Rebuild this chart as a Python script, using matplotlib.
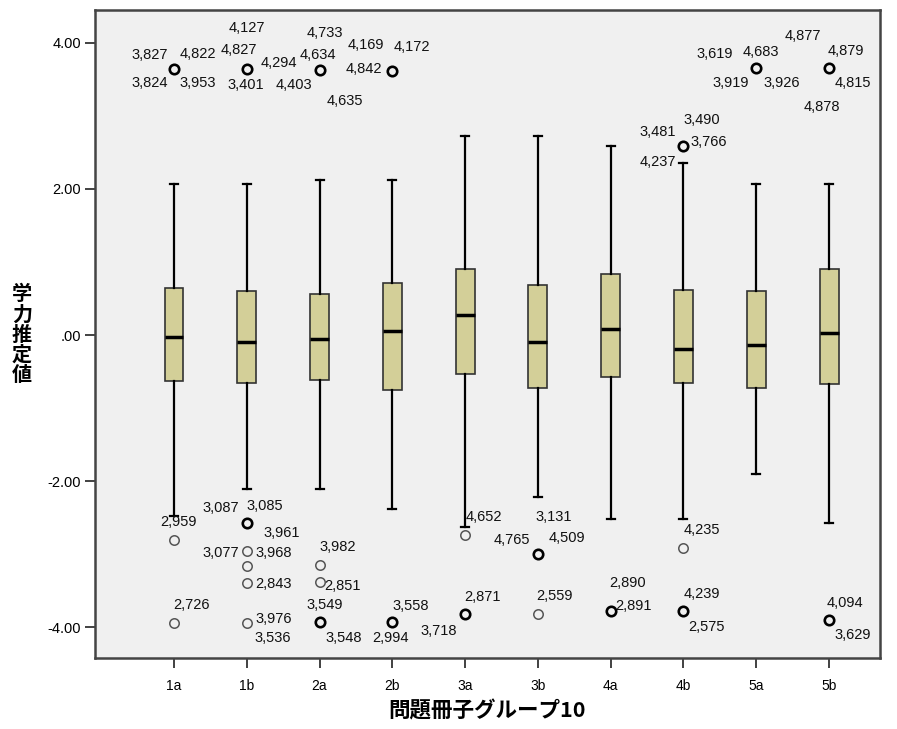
import matplotlib
matplotlib.use("Agg")
import matplotlib.pyplot as plt

plt.rcParams['font.family'] = ['Liberation Sans', 'Noto Sans CJK JP', 'DejaVu Sans']

# ---------------- data ----------------
groups = ['1a', '1b', '2a', '2b', '3a', '3b', '4a', '4b', '5a', '5b']
whisk_hi = [2.07, 2.07, 2.12, 2.12, 2.72, 2.72, 2.59, 2.36, 2.07, 2.07]
q3 = [0.65, 0.60, 0.56, 0.71, 0.90, 0.68, 0.84, 0.62, 0.61, 0.91]
median = [-0.03, -0.10, -0.06, 0.05, 0.28, -0.09, 0.08, -0.19, -0.13, 0.03]
q1 = [-0.63, -0.65, -0.61, -0.75, -0.53, -0.73, -0.58, -0.66, -0.73, -0.67]
whisk_lo = [-2.47, -2.10, -2.10, -2.38, -2.62, -2.21, -2.52, -2.52, -1.90, -2.57]

# outliers: group index, value, multiple cases (bold marker)
out_group = [0, 1, 2, 3, 8, 9, 7,
             0, 0, 1, 1, 1, 1, 1, 2, 2, 2, 3, 4, 4, 5, 5, 6, 7, 7, 9]
out_value = [3.64, 3.64, 3.63, 3.62, 3.65, 3.65, 2.59,
             -2.81, -3.94, -2.57, -2.95, -3.16, -3.40, -3.94, -3.15, -3.38, -3.93,
             -3.93, -2.73, -3.82, -2.99, -3.82, -3.77, -2.91, -3.77, -3.90]
out_multi = [True, True, True, True, True, True, True,
             False, False, True, False, False, False, False, False, False, True,
             True, False, True, True, False, True, False, True, True]

# case-number labels: which outlier they belong to, and text
label_point = [0, 0, 0, 0,
               1, 1, 1, 1,
               2, 2, 2, 2,
               3, 3, 3,
               4, 4, 4, 4,
               5, 5, 5, 5,
               6, 6, 6, 6,
               7, 8, 9, 9, 9, 10, 10, 12, 13, 13,
               14, 15, 16, 16, 17, 17,
               18, 19, 19, 20, 20, 20, 21, 22, 22, 23, 24, 24, 25, 25]
label_text = ['3,827', '4,822', '3,824', '3,953',
              '4,127', '4,827', '4,294', '3,401',
              '4,733', '4,634', '4,403', '4,635',
              '4,169', '4,172', '4,842',
              '3,619', '4,683', '3,919', '3,926',
              '4,877', '4,879', '4,815', '4,878',
              '3,481', '3,490', '3,766', '4,237',
              '2,959', '2,726', '3,087', '3,085', '3,961', '3,077', '3,968', '2,843', '3,976', '3,536',
              '3,982', '2,851', '3,549', '3,548', '3,558', '2,994',
              '4,652', '2,871', '3,718', '3,131', '4,765', '4,509', '2,559', '2,890', '2,891',
              '4,235', '4,239', '2,575', '4,094', '3,629']

# ---------------- layout (label offsets in pixels) ----------------
label_offset = [(-24, 14), (24, 15), (-24, -14), (24, -14),
                (0, 41), (-8, 19), (32, 6), (-1, -16),
                (5, 37), (-2, 15), (-26, -15), (25, -31),
                (-26, 26), (20, 24), (-28, 2),
                (-42, 14), (5, 16), (-26, -15), (25, -15),
                (-26, 32), (17, 17), (24, -15), (-7, -39),
                (-26, 14), (18, 26), (25, 4), (-26, -16),
                (5, 18), (18, 18), (-26, 15), (18, 17), (35, -10), (-26, -2), (27, -2), (27, -1), (27, 4), (26, -15),
                (18, 18), (23, -4), (5, 17), (24, -16), (18, 16), (-2, -16),
                (19, 18), (17, 17), (-26, -17), (16, 37), (-26, 14), (29, 16), (17, 18), (17, 28), (23, 5),
                (18, 18), (18, 17), (23, -16), (16, 17), (24, -15)]

fig = plt.figure(figsize=(8.97, 7.29), dpi=100)
ax = fig.add_axes([95 / 897, 1 - 658 / 729, 785 / 897, 648 / 729])
ax.set_facecolor('#F0F0F0')

stats = []
for i in range(len(groups)):
    stats.append(dict(med=median[i], q1=q1[i], q3=q3[i],
                      whislo=whisk_lo[i], whishi=whisk_hi[i], fliers=[]))

positions = list(range(len(groups)))
ax.bxp(stats, positions=positions, widths=0.26, capwidths=0.11,
       patch_artist=True, showfliers=False,
       boxprops=dict(facecolor='#D3CF98', edgecolor='#333333', linewidth=1.2),
       medianprops=dict(color='black', linewidth=2.5),
       whiskerprops=dict(color='black', linewidth=1.6),
       capprops=dict(color='black', linewidth=1.6),
       manage_ticks=False, zorder=2)

for g, v, m in zip(out_group, out_value, out_multi):
    ax.plot(g, v, marker='o', markersize=6.8, markerfacecolor='none',
            markeredgecolor='black' if m else '#555555',
            markeredgewidth=1.9 if m else 1.1, linestyle='none', zorder=3)

for pi, txt, off in zip(label_point, label_text, label_offset):
    ax.annotate(txt, xy=(out_group[pi], out_value[pi]), xytext=off,
                textcoords='offset pixels', ha='center', va='center',
                fontsize=10.5, color='#111111', zorder=4)

ax.set_xlim(-1.085, 9.70)
ax.set_ylim(-4.42, 4.45)
ax.set_xticks(positions)
ax.set_xticklabels(groups, fontsize=10)
yt = [4.0, 2.0, 0.0, -2.0, -4.0]
ax.set_yticks(yt)
ax.set_yticklabels(['4.00', '2.00', '.00', '-2.00', '-4.00'], fontsize=10.5)
ax.tick_params(axis='both', direction='out', length=7, width=1.3, color='#333333')
ax.tick_params(axis='x', pad=8)
ax.tick_params(axis='y', pad=3)

for s in ax.spines.values():
    s.set_color('#444444')
    s.set_linewidth(1.8)

ax.set_xlabel('問題冊子グループ10', fontsize=15.5, fontweight='bold',
              family=['Noto Sans CJK JP', 'DejaVu Sans'], labelpad=5)
fig.text(22 / 897, 1 - 334 / 729, '\n'.join('学力推定値'), fontsize=14.5, fontweight='bold',
         family=['Noto Sans CJK JP'], ha='center', va='center', linespacing=0.95)

fig.savefig('out.png', dpi=100, facecolor='white')
